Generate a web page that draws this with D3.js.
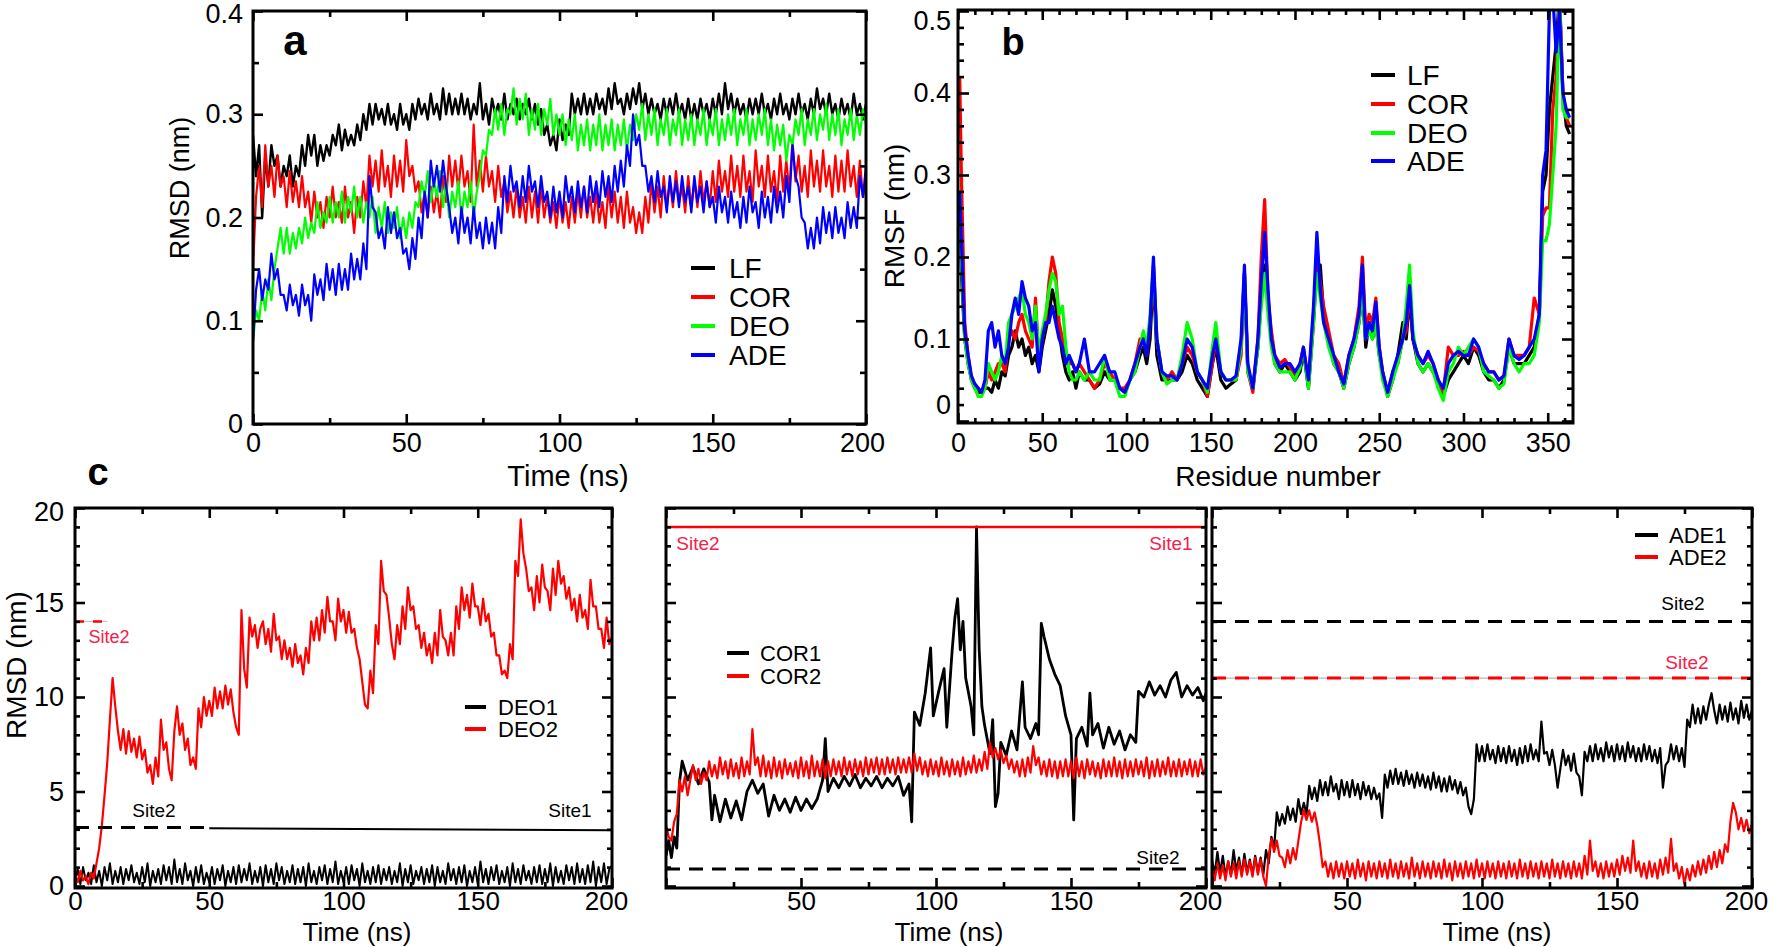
<!DOCTYPE html>
<html><head><meta charset="utf-8">
<script src="https://cdn.jsdelivr.net/npm/d3@7"></script>
<style>body{margin:0;background:#fff}svg{display:block}</style>
</head><body>
<svg id="chart" width="1772" height="947"></svg>
<script>
// ---------------- DATA ----------------
// Panel a: RMSD (nm) vs time (ns), one value per ns from 0 to 200
const timeA = d3.range(0, 201, 1);
const rmsdLF = [0.28,0.24,0.27,0.20,0.26,0.23,0.27,0.25,0.26,0.23, 0.25,0.24,0.26,0.23,0.25,0.24,0.27,0.25,0.28,0.26, 0.28,0.25,0.27,0.255,0.27,0.26,0.28,0.27,0.29,0.265, 0.285,0.27,0.28,0.27,0.29,0.275,0.30,0.285,0.31,0.29, 0.31,0.295,0.305,0.29,0.31,0.29,0.30,0.285,0.31,0.29, 0.30,0.285,0.31,0.295,0.315,0.30,0.31,0.295,0.32,0.30, 0.31,0.295,0.325,0.30,0.32,0.30,0.315,0.30,0.32,0.30, 0.315,0.295,0.31,0.30,0.33,0.295,0.31,0.29,0.315,0.30, 0.31,0.295,0.32,0.295,0.31,0.30,0.315,0.295,0.31,0.30, 0.315,0.295,0.31,0.29,0.305,0.28,0.29,0.27,0.28,0.265, 0.295,0.275,0.29,0.28,0.32,0.30,0.315,0.30,0.32,0.30, 0.315,0.30,0.32,0.305,0.315,0.30,0.325,0.305,0.33,0.31, 0.315,0.30,0.32,0.305,0.325,0.31,0.33,0.305,0.32,0.30, 0.315,0.30,0.31,0.295,0.315,0.30,0.315,0.30,0.32,0.30, 0.31,0.295,0.315,0.295,0.31,0.295,0.315,0.30,0.31,0.295, 0.315,0.30,0.32,0.30,0.33,0.305,0.32,0.30,0.315,0.30, 0.31,0.295,0.315,0.30,0.315,0.30,0.32,0.30,0.31,0.295, 0.315,0.30,0.32,0.30,0.31,0.295,0.315,0.30,0.32,0.30, 0.31,0.295,0.315,0.30,0.325,0.305,0.315,0.30,0.32,0.30, 0.31,0.295,0.315,0.30,0.31,0.295,0.32,0.30,0.31,0.295, 0.31];
const rmsdCOR = [0.15,0.22,0.25,0.21,0.27,0.23,0.25,0.22,0.26,0.23, 0.24,0.21,0.245,0.215,0.235,0.21,0.24,0.21,0.225,0.195, 0.225,0.20,0.215,0.19,0.22,0.20,0.23,0.20,0.215,0.195, 0.23,0.20,0.215,0.185,0.22,0.20,0.235,0.21,0.26,0.23, 0.255,0.225,0.265,0.23,0.25,0.22,0.26,0.23,0.255,0.225, 0.275,0.24,0.25,0.225,0.235,0.205,0.225,0.20,0.23,0.205, 0.225,0.20,0.24,0.215,0.26,0.23,0.255,0.225,0.26,0.23, 0.245,0.215,0.29,0.23,0.255,0.225,0.26,0.23,0.245,0.215, 0.25,0.22,0.235,0.205,0.225,0.20,0.23,0.20,0.22,0.195, 0.23,0.20,0.225,0.195,0.23,0.20,0.22,0.195,0.215,0.19, 0.22,0.195,0.215,0.19,0.22,0.195,0.225,0.20,0.23,0.20, 0.22,0.195,0.225,0.195,0.215,0.19,0.23,0.20,0.225,0.195, 0.22,0.19,0.225,0.195,0.21,0.185,0.205,0.185,0.22,0.195, 0.235,0.205,0.23,0.20,0.24,0.21,0.235,0.21,0.245,0.215, 0.23,0.205,0.24,0.21,0.235,0.21,0.245,0.215,0.235,0.21, 0.245,0.215,0.255,0.225,0.245,0.22,0.26,0.225,0.25,0.22, 0.26,0.225,0.245,0.215,0.265,0.23,0.25,0.22,0.26,0.225, 0.245,0.215,0.26,0.225,0.255,0.225,0.275,0.235,0.26,0.225, 0.25,0.22,0.265,0.23,0.255,0.225,0.265,0.23,0.25,0.22, 0.26,0.225,0.255,0.225,0.265,0.23,0.25,0.22,0.255,0.22, 0.235];
const rmsdDEO = [0.08,0.11,0.10,0.13,0.11,0.14,0.12,0.15,0.17,0.19, 0.165,0.19,0.165,0.185,0.17,0.19,0.175,0.20,0.18,0.195, 0.185,0.215,0.19,0.205,0.195,0.22,0.195,0.215,0.20,0.225, 0.195,0.22,0.205,0.23,0.20,0.22,0.195,0.215,0.20,0.22, 0.185,0.21,0.19,0.215,0.185,0.205,0.19,0.21,0.18,0.20, 0.18,0.205,0.19,0.215,0.21,0.235,0.22,0.245,0.215,0.235, 0.22,0.245,0.21,0.235,0.20,0.225,0.21,0.235,0.20,0.225, 0.21,0.235,0.20,0.225,0.24,0.265,0.26,0.285,0.28,0.305, 0.285,0.31,0.28,0.305,0.30,0.325,0.29,0.315,0.295,0.32, 0.28,0.305,0.285,0.31,0.28,0.305,0.29,0.315,0.28,0.30, 0.28,0.30,0.27,0.295,0.275,0.30,0.265,0.29,0.27,0.295, 0.265,0.29,0.27,0.30,0.265,0.29,0.27,0.295,0.265,0.29, 0.27,0.295,0.265,0.29,0.275,0.30,0.285,0.31,0.275,0.30, 0.28,0.305,0.27,0.295,0.28,0.305,0.27,0.295,0.28,0.305, 0.27,0.295,0.275,0.30,0.27,0.295,0.28,0.305,0.27,0.295, 0.28,0.305,0.27,0.295,0.275,0.30,0.28,0.305,0.27,0.295, 0.28,0.305,0.27,0.295,0.275,0.30,0.28,0.305,0.27,0.295, 0.265,0.29,0.27,0.29,0.255,0.28,0.27,0.295,0.28,0.305, 0.27,0.295,0.28,0.305,0.275,0.30,0.285,0.31,0.275,0.30, 0.28,0.305,0.27,0.295,0.28,0.305,0.275,0.30,0.28,0.305, 0.29];
const rmsdADE = [0.08,0.13,0.15,0.12,0.14,0.13,0.165,0.14,0.15,0.125, 0.125,0.11,0.135,0.115,0.125,0.105,0.135,0.115,0.125,0.10, 0.145,0.125,0.14,0.12,0.155,0.13,0.15,0.125,0.155,0.13, 0.15,0.13,0.165,0.14,0.16,0.14,0.175,0.15,0.24,0.21, 0.205,0.18,0.19,0.17,0.21,0.185,0.205,0.18,0.19,0.165, 0.17,0.15,0.18,0.16,0.20,0.18,0.225,0.20,0.255,0.23, 0.25,0.225,0.255,0.23,0.21,0.185,0.20,0.175,0.21,0.185, 0.20,0.175,0.21,0.18,0.195,0.17,0.20,0.175,0.195,0.17, 0.21,0.185,0.24,0.215,0.25,0.225,0.235,0.21,0.24,0.215, 0.25,0.225,0.235,0.21,0.24,0.215,0.225,0.20,0.23,0.205, 0.225,0.20,0.24,0.215,0.23,0.205,0.235,0.21,0.23,0.205, 0.24,0.215,0.235,0.21,0.245,0.22,0.24,0.215,0.25,0.225, 0.255,0.23,0.27,0.25,0.30,0.27,0.28,0.25,0.25,0.225, 0.24,0.215,0.245,0.22,0.23,0.205,0.24,0.215,0.235,0.21, 0.24,0.215,0.23,0.205,0.24,0.215,0.23,0.205,0.235,0.21, 0.22,0.195,0.23,0.205,0.22,0.195,0.225,0.20,0.215,0.19, 0.22,0.195,0.23,0.205,0.215,0.19,0.225,0.20,0.22,0.195, 0.23,0.205,0.225,0.20,0.24,0.215,0.27,0.24,0.23,0.20, 0.195,0.17,0.19,0.17,0.20,0.175,0.21,0.185,0.205,0.18, 0.21,0.185,0.20,0.18,0.215,0.19,0.21,0.19,0.24,0.22, 0.25];

// Panel b: RMSF (nm) vs residue number
const residues = [1,2,4,6,8,10,12,14,16,18,20,22,24,26,28,30,32,34,36,38,40,42,44,46,48,50,52,54,56,58,60,62,64,66,68,70,72,75,78,81,84,87,90,93,96,99,102,105,108,110,112,114,116,118,121,124,127,130,133,136,139,142,145,148,151,153,156,159,162,165,168,170,172,175,178,180,182,184,186,188,191,194,197,200,203,205,208,211,213,215,217,220,223,226,229,232,235,238,240,242,244,246,248,250,252,255,258,261,264,266,268,270,273,276,279,282,285,288,291,294,297,300,303,306,309,312,315,318,321,324,327,330,333,336,339,342,345,347,349,351,353,355,357,359,361,363];
const rmsfLF  = [0.26,0.18,0.10,0.07,0.05,0.04,0.035,0.035,0.04,0.04,0.035,0.05,0.04,0.06,0.055,0.08,0.09,0.11,0.09,0.10,0.08,0.09,0.07,0.08,0.06,0.09,0.11,0.13,0.16,0.14,0.11,0.08,0.06,0.05,0.06,0.04,0.06,0.05,0.05,0.04,0.045,0.06,0.05,0.05,0.04,0.035,0.05,0.06,0.08,0.09,0.07,0.10,0.18,0.08,0.05,0.05,0.05,0.05,0.06,0.08,0.07,0.05,0.04,0.03,0.07,0.09,0.05,0.04,0.045,0.05,0.09,0.18,0.06,0.04,0.09,0.15,0.19,0.14,0.10,0.07,0.06,0.07,0.06,0.05,0.06,0.085,0.04,0.12,0.19,0.19,0.13,0.10,0.07,0.06,0.04,0.07,0.09,0.12,0.16,0.09,0.12,0.10,0.12,0.08,0.06,0.03,0.05,0.08,0.12,0.10,0.15,0.10,0.07,0.06,0.07,0.06,0.05,0.03,0.05,0.06,0.07,0.08,0.07,0.09,0.08,0.06,0.05,0.05,0.04,0.05,0.09,0.07,0.07,0.07,0.08,0.09,0.13,0.28,0.30,0.38,0.42,0.46,0.52,0.40,0.36,0.35];
const rmsfCOR = [0.42,0.30,0.12,0.08,0.05,0.045,0.04,0.035,0.04,0.06,0.05,0.06,0.07,0.07,0.06,0.10,0.11,0.10,0.12,0.13,0.11,0.10,0.09,0.15,0.07,0.10,0.12,0.17,0.20,0.18,0.12,0.10,0.08,0.07,0.07,0.06,0.07,0.06,0.05,0.04,0.05,0.07,0.06,0.05,0.04,0.04,0.05,0.07,0.10,0.10,0.08,0.12,0.19,0.10,0.06,0.05,0.06,0.05,0.07,0.09,0.08,0.06,0.05,0.03,0.07,0.10,0.06,0.05,0.05,0.05,0.08,0.18,0.06,0.035,0.10,0.20,0.27,0.15,0.11,0.08,0.07,0.075,0.065,0.055,0.07,0.09,0.045,0.13,0.20,0.17,0.14,0.11,0.08,0.07,0.045,0.08,0.10,0.14,0.20,0.11,0.13,0.12,0.15,0.09,0.06,0.035,0.06,0.07,0.10,0.11,0.16,0.10,0.08,0.07,0.08,0.07,0.05,0.035,0.09,0.08,0.08,0.085,0.08,0.09,0.085,0.07,0.06,0.06,0.05,0.055,0.10,0.08,0.08,0.08,0.09,0.15,0.13,0.25,0.26,0.26,0.38,0.42,0.52,0.40,0.37,0.36];
const rmsfDEO = [0.28,0.20,0.10,0.07,0.05,0.04,0.03,0.03,0.04,0.07,0.06,0.05,0.06,0.08,0.07,0.12,0.13,0.14,0.15,0.16,0.13,0.12,0.10,0.14,0.08,0.11,0.13,0.16,0.18,0.17,0.13,0.14,0.09,0.06,0.05,0.05,0.06,0.05,0.06,0.05,0.05,0.08,0.05,0.05,0.03,0.03,0.05,0.06,0.09,0.11,0.09,0.13,0.19,0.10,0.06,0.045,0.05,0.05,0.08,0.12,0.10,0.06,0.05,0.035,0.09,0.12,0.06,0.05,0.05,0.05,0.09,0.18,0.06,0.04,0.09,0.14,0.18,0.13,0.09,0.07,0.06,0.06,0.06,0.05,0.065,0.09,0.04,0.12,0.18,0.15,0.12,0.09,0.07,0.06,0.04,0.07,0.09,0.12,0.16,0.10,0.11,0.10,0.12,0.08,0.05,0.03,0.05,0.07,0.10,0.14,0.19,0.11,0.07,0.06,0.07,0.06,0.04,0.025,0.06,0.07,0.09,0.08,0.09,0.10,0.09,0.06,0.055,0.05,0.04,0.045,0.09,0.07,0.06,0.07,0.07,0.08,0.12,0.22,0.22,0.24,0.30,0.36,0.52,0.38,0.37,0.37];
const rmsfADE = [0.28,0.22,0.11,0.08,0.055,0.045,0.04,0.035,0.05,0.11,0.12,0.09,0.11,0.08,0.07,0.09,0.13,0.15,0.13,0.17,0.15,0.14,0.11,0.12,0.06,0.10,0.12,0.12,0.14,0.12,0.10,0.09,0.07,0.08,0.07,0.06,0.07,0.10,0.06,0.06,0.07,0.08,0.06,0.06,0.04,0.035,0.05,0.07,0.09,0.10,0.08,0.12,0.20,0.10,0.06,0.055,0.055,0.05,0.07,0.10,0.09,0.06,0.05,0.04,0.08,0.10,0.06,0.05,0.05,0.055,0.10,0.19,0.07,0.04,0.10,0.17,0.23,0.16,0.10,0.08,0.065,0.07,0.07,0.06,0.07,0.09,0.05,0.14,0.23,0.16,0.12,0.10,0.08,0.06,0.045,0.08,0.10,0.13,0.19,0.10,0.12,0.11,0.145,0.09,0.06,0.035,0.06,0.08,0.10,0.12,0.165,0.10,0.08,0.07,0.085,0.07,0.05,0.04,0.07,0.08,0.085,0.08,0.08,0.10,0.09,0.07,0.06,0.06,0.05,0.055,0.10,0.08,0.075,0.08,0.09,0.10,0.13,0.30,0.33,0.50,0.52,0.45,0.50,0.40,0.38,0.37];

// Panel c: ligand RMSD (nm) vs time (ns), one value per ns
const timeC = d3.range(0, 201, 1);
const deo1 = [0.2,0.9,0.1,1.0,0.3,0.7,0.1,1.1,0.2,0.8,0.0,1.0,0.3,1.2,0.1,0.8,0.2,1.0,0.1,0.9,0.3,1.1,0.2,0.7,0.1,1.0,0.2,1.2,0.0,0.8,0.2,0.9,0.1,1.1,0.3,1.0,0.1,1.4,0.2,0.9,0.1,1.2,0.3,0.8,0.0,1.0,0.2,1.1,0.1,0.7,0.2,1.0,0.1,0.9,0.3,1.1,0.0,0.8,0.2,1.0,0.1,1.1,0.2,0.9,0.3,1.2,0.1,0.8,0.2,1.0,0.0,1.1,0.2,0.9,0.1,1.2,0.3,1.0,0.1,0.8,0.2,1.1,0.1,0.9,0.2,1.0,0.0,1.2,0.2,0.8,0.1,1.0,0.3,1.1,0.1,0.9,0.2,1.3,0.1,0.8,0.2,1.0,0.1,1.1,0.3,0.9,0.0,1.2,0.2,0.8,0.1,1.0,0.2,1.1,0.1,0.9,0.3,1.0,0.1,0.8,0.2,1.2,0.0,0.9,0.2,1.1,0.1,0.8,0.3,1.0,0.1,0.9,0.2,1.1,0.0,1.0,0.2,0.8,0.1,1.2,0.3,0.9,0.1,1.0,0.2,1.1,0.0,0.8,0.2,1.0,0.1,1.3,0.2,0.9,0.1,1.0,0.3,1.1,0.1,0.8,0.2,1.0,0.0,1.2,0.2,0.9,0.1,1.1,0.3,0.8,0.1,1.0,0.2,1.1,0.1,0.9,0.2,1.2,0.0,1.0,0.2,0.8,0.1,1.1,0.3,1.0,0.1,1.2,0.2,0.9,0.1,1.1,0.2,1.3,0.0,1.0,0.2,1.2,0.1,0.9,1.1];
const deo2 = [0.6,0.2,0.8,0.3,0.5,0.1,0.7,0.4,1.2,2.0, 3.2,4.8,6.5,8.8,11.0,9.5,8.2,7.2,8.3,7.0, 8.2,7.1,7.8,6.8,7.9,6.7,7.2,6.0,6.4,5.4, 6.8,5.8,8.8,7.2,7.6,6.2,5.6,8.2,9.5,8.0, 8.6,7.2,7.8,6.4,6.8,6.2,9.4,8.4,10.0,9.0, 9.8,9.0,10.5,9.4,10.3,9.4,10.6,9.6,10.4,9.2, 8.4,8.0,14.6,11.5,10.5,14.2,13.2,13.8,12.6,13.6, 14.0,12.8,13.6,12.4,14.4,13.0,13.2,12.0,13.0,12.0, 12.6,11.6,12.8,11.8,12.2,11.2,12.6,11.8,14.0,13.0, 14.2,13.0,14.6,13.4,15.3,14.0,14.0,13.0,15.2,14.0, 14.6,13.4,14.5,13.4,13.6,12.6,12.0,10.8,9.6,9.4, 11.4,10.2,13.8,12.8,17.2,15.6,15.4,14.2,12.8,12.0, 13.8,12.8,14.8,13.6,15.8,14.6,14.8,13.6,13.8,12.6, 13.4,12.2,12.8,11.8,13.4,12.2,14.6,13.2,13.0,12.2, 13.4,12.2,14.8,13.6,15.8,14.6,15.4,14.2,16.0,14.8, 14.8,13.8,15.2,14.0,14.4,13.2,13.4,12.2,12.2,11.2, 11.4,11.0,12.8,12.0,17.2,16.4,19.4,17.6,16.8,15.6, 15.8,14.6,16.4,15.0,17.0,15.8,15.6,14.6,16.8,15.4, 17.2,16.0,16.4,15.2,15.8,14.6,15.2,14.0,15.4,14.2, 14.6,13.6,16.2,14.8,14.8,13.6,13.6,12.6,14.2,12.8, 13.2];
const cor1 = [[0,1.6],[1,2.4],[2,1.5],[3,2.6],[4,2.0],[5,5.5],[6,6.6],[8,5.6],[10,6.3],[12,5.4],[14,6.2],[16,5.5],[17,3.5],[18,4.8],[20,3.4],[22,4.6],[24,3.6],[26,4.5],[28,3.5],[30,5.0],[32,5.6],[34,4.9],[36,5.4],[38,3.7],[40,4.8],[42,4.0],[44,4.6],[46,3.9],[48,4.7],[50,4.0],[52,4.6],[54,4.1],[56,4.6],[58,5.6],[59,7.8],[60,5.0],[62,5.7],[64,5.2],[66,5.8],[68,5.3],[70,5.9],[72,5.2],[74,5.7],[76,5.3],[78,5.8],[80,5.2],[82,5.7],[84,5.3],[86,5.8],[88,4.8],[90,5.4],[91,3.4],[92,9.2],[94,8.5],[96,10.2],[98,12.6],[99,9.0],[101,10.3],[103,11.5],[104,8.4],[106,12.5],[107,14.2],[108,15.2],[109,12.5],[110,14.0],[111,11.0],[113,9.5],[114,8.0],[115,19.0],[116,12.5],[117,9.5],[118,8.5],[120,7.0],[121,8.8],[122,4.2],[123,4.9],[124,7.6],[126,6.9],[128,8.2],[130,7.2],[132,10.8],[133,8.4],[135,7.8],[137,8.6],[138,8.0],[139,13.9],[140,13.2],[142,12.0],[144,11.2],[146,10.6],[148,9.0],[150,8.0],[151,3.5],[152,7.8],[154,8.4],[156,7.4],[157,10.2],[158,8.0],[160,8.6],[162,7.3],[164,8.4],[166,7.5],[168,8.2],[170,7.2],[172,8.0],[174,7.6],[175,10.3],[177,10.0],[179,10.8],[181,10.1],[183,10.6],[185,10.0],[187,10.9],[189,11.3],[191,10.0],[193,10.6],[195,10.1],[197,10.5],[199,9.8],[200,10.2]];
const cor2 = [3.2,2.6,2.4,3.4,3.8,5.6,5.0,5.8,4.8,5.6, 6.4,5.6,6.2,5.4,6.0,5.6,6.6,5.8,6.4,5.7, 6.8,5.9,6.6,5.7,6.7,5.8,6.5,5.7,6.8,5.8, 6.6,5.9,8.3,6.4,6.8,5.8,6.9,5.8,6.6,5.7, 6.8,5.8,6.6,5.7,6.7,5.9,6.5,5.8,6.6,5.7, 6.8,5.8,6.6,5.7,6.9,5.8,6.6,5.8,6.7,5.7, 6.6,5.8,6.7,5.9,6.6,5.8,6.8,5.9,6.6,5.8, 6.7,5.9,6.6,5.8,6.8,5.9,6.7,6.0,6.8,5.9, 6.7,5.9,6.8,6.0,6.7,5.9,6.8,6.0,6.7,6.0, 6.8,6.0,7.0,6.1,6.8,5.9,6.6,5.8,6.7,5.9, 6.6,5.8,6.8,5.9,6.6,5.8,6.7,5.9,6.6,5.8, 6.8,5.9,6.6,6.0,6.9,6.0,6.7,6.1,7.1,6.2, 7.6,6.8,7.3,6.7,7.2,6.5,6.9,6.2,6.7,6.0, 6.6,5.8,6.7,5.8,6.8,6.0,7.4,6.4,6.8,5.9, 6.6,5.8,6.7,5.8,6.6,5.7,6.6,5.8,6.7,5.8, 6.6,5.7,6.8,5.8,6.6,5.7,6.7,5.9,6.6,5.8, 6.5,5.7,6.7,5.8,6.6,5.8,6.8,5.8,6.6,5.7, 6.7,5.8,6.6,5.8,6.7,5.9,6.6,5.8,6.8,5.7, 6.6,5.8,6.7,5.8,6.6,5.9,6.8,5.8,6.6,5.8, 6.7,5.8,6.6,5.9,6.7,5.8,6.6,5.8,6.7,5.9, 6.3];
const ade1 = [1.4,0.6,1.8,0.7,1.6,0.5,1.3,0.6,1.9,0.8, 1.5,0.6,1.7,0.7,1.4,0.6,1.6,0.7,1.5,0.6, 1.9,1.2,2.6,2.0,3.9,3.2,3.8,3.3,4.2,3.5, 4.1,3.4,4.6,3.8,4.4,3.8,5.3,4.6,5.2,4.5, 5.6,4.8,5.5,4.8,5.8,5.0,5.4,4.6,5.6,4.8, 5.5,4.7,5.6,4.8,5.4,4.6,5.5,4.8,5.3,4.6, 5.2,4.6,4.9,3.6,5.9,5.2,6.1,5.4,6.2,5.4, 6.0,5.3,6.1,5.4,5.9,5.2,6.0,5.3,5.9,5.2, 5.8,5.1,6.0,5.2,5.8,5.0,5.7,5.0,5.8,5.1, 5.6,4.9,5.5,4.8,5.2,4.2,3.8,4.6,7.5,6.6, 7.4,6.6,7.5,6.7,7.2,6.5,7.4,6.6,7.3,6.5, 7.4,6.6,7.2,6.4,7.3,6.5,7.4,6.6,7.5,6.7, 7.2,6.6,8.7,7.0,7.1,6.4,7.2,6.4,5.2,6.2, 7.2,6.4,6.9,6.1,7.0,6.0,5.8,4.8,7.1,6.6, 7.4,6.6,7.5,6.7,7.3,6.6,7.6,6.8,7.4,6.6, 7.5,6.7,7.4,6.6,7.6,6.8,7.4,6.6,7.3,6.6, 7.5,6.7,7.4,6.6,7.2,6.5,7.3,5.2,6.4,6.6, 7.5,6.7,7.4,6.6,7.3,6.3,8.8,8.4,9.6,8.6, 9.4,8.6,9.5,8.8,9.6,10.2,9.3,8.6,9.6,8.8, 9.5,8.7,9.7,8.8,9.4,8.6,9.8,8.9,9.6,8.8, 9.3];
const ade2 = [1.0,0.3,1.2,0.4,1.1,0.3,1.3,0.5,1.2,0.4, 1.3,0.5,1.4,0.6,1.3,0.5,1.5,0.6,1.4,0.5, 0.0,1.6,2.5,1.8,2.4,1.6,1.5,1.0,1.9,1.2, 2.0,1.4,2.4,3.4,4.0,3.5,4.0,3.4,3.9,3.2, 2.2,1.0,1.3,0.5,1.2,0.4,1.3,0.5,1.2,0.4, 1.3,0.5,1.2,0.4,1.4,0.5,1.2,0.3,1.3,0.5, 1.2,0.4,1.3,0.5,1.2,0.4,1.4,0.5,1.2,0.4, 1.3,0.5,1.2,0.4,1.5,0.5,1.2,0.4,1.3,0.5, 1.2,0.4,1.3,0.5,1.2,0.4,1.4,0.5,1.2,0.3, 1.3,0.5,1.2,0.4,1.3,0.5,1.2,0.4,1.4,0.5, 1.2,0.4,1.3,0.5,1.2,0.4,1.3,0.5,1.2,0.4, 1.3,0.5,1.2,0.4,1.4,0.5,1.2,0.4,1.3,0.5, 1.2,0.4,1.3,0.5,1.2,0.4,1.4,0.5,1.2,0.4, 1.3,0.5,1.2,0.4,1.3,0.5,1.2,0.4,1.6,0.6, 2.4,0.8,1.3,0.5,1.2,0.4,1.3,0.5,1.2,0.5, 1.4,0.6,1.6,0.8,1.5,0.7,2.4,0.8,1.3,0.5, 1.2,0.4,1.3,0.5,1.2,0.4,1.4,0.6,1.5,0.7, 2.5,0.8,1.2,0.4,1.0,0.1,0.9,0.3,1.1,0.5, 1.3,0.6,1.4,0.7,1.6,0.9,1.8,1.0,1.9,1.2, 2.2,1.8,3.4,4.4,3.9,3.0,3.6,2.9,3.5,2.8, 3.3];
// Binding-site reference levels (nm)
const siteC1 = {site2Black: 3.1, site1Black: [3.05, 2.95], site2Red: 14};
const siteC2 = {site2Black: 0.9, site1Red: 19};
const siteC3 = {site2Black: 14, site2Red: 11};

// Tick values
const ticksTime = [0, 50, 100, 150, 200];
const ticksTimeMinor = [25, 75, 125, 175];
const ticksRMSD = [0, 0.1, 0.2, 0.3, 0.4];
const ticksRMSDMinor = [0.05, 0.15, 0.25, 0.35];
const ticksRes = [0, 50, 100, 150, 200, 250, 300, 350];
const ticksResMinor = [10,20,30,40,60,70,80,90,110,120,130,140,160,170,180,190,210,220,230,240,260,270,280,290,310,320,330,340,360];
const ticksRMSF = [0, 0.1, 0.2, 0.3, 0.4, 0.5];
const ticksRMSFMinor = [0.02,0.04,0.06,0.08,0.12,0.14,0.16,0.18,0.22,0.24,0.26,0.28,0.32,0.34,0.36,0.38,0.42,0.44,0.46,0.48];
const ticksC = [0, 5, 10, 15, 20];
const ticksCMinor = [1,2,3,4,6,7,8,9,11,12,13,14,16,17,18,19];

[rmsdLF, rmsdCOR, rmsdDEO, rmsdADE].forEach(a => { if (a.length !== timeA.length) throw new Error("panel a length " + a.length); });
[rmsfLF, rmsfCOR, rmsfDEO, rmsfADE].forEach(a => { if (a.length !== residues.length) throw new Error("panel b length " + a.length); });
[deo1, deo2, cor2, ade1, ade2].forEach(a => { if (a.length !== timeC.length) throw new Error("panel c length " + a.length); });

// ---------------- DRAWING ----------------
const FONT = '"Liberation Sans", Arial, Helvetica, sans-serif';
const RED = "#ff0000", GREEN = "#00ff00", BLUE = "#0000ff", BLACK = "#000000", SITE_RED = "#f5204a";
const svg = d3.select("#chart");

function panel(p) {
  const x = d3.scaleLinear().domain(p.xDomain).range([p.left, p.right]);
  const y = d3.scaleLinear().domain(p.yDomain).range(p.yRange);
  const g = svg.append("g");
  const clipId = "clip-" + p.id;
  g.append("clipPath").attr("id", clipId).append("rect")
    .attr("x", p.left).attr("y", p.top).attr("width", p.right - p.left).attr("height", p.bottom - p.top);
  const plot = g.append("g").attr("clip-path", `url(#${clipId})`);
  return {p, x, y, g, plot};
}

function tickSet(P, dim, values, len) {
  const p = P.p;
  const s = dim === "x" ? P.x : P.y;
  const defs = dim === "x"
    ? [[d3.axisBottom, `translate(0,${p.bottom})`], [d3.axisTop, `translate(0,${p.top})`]]
    : [[d3.axisLeft, `translate(${p.left},0)`], [d3.axisRight, `translate(${p.right},0)`]];
  defs.forEach(([fn, tr]) => {
    P.g.append("g").attr("transform", tr)
      .call(fn(s).tickValues(values).tickSize(-len).tickFormat(""))
      .call(a => a.select(".domain").remove())
      .selectAll("line").attr("stroke", BLACK).attr("stroke-width", 2.6);
  });
}

function frame(P) {
  const p = P.p;
  P.g.append("rect").attr("x", p.left).attr("y", p.top)
    .attr("width", p.right - p.left).attr("height", p.bottom - p.top)
    .attr("fill", "none").attr("stroke", BLACK).attr("stroke-width", 3);
}

function xLabels(P, values, pad, fs, lastDx) {
  const ax = P.g.append("g").attr("transform", `translate(0,${P.p.bottom})`)
    .call(d3.axisBottom(P.x).tickValues(values).tickSize(0).tickPadding(pad).tickFormat(d => String(d)))
    .call(a => a.select(".domain").remove());
  ax.selectAll("text").attr("font-size", fs).attr("font-family", FONT).attr("fill", BLACK)
    .attr("dx", (d, i) => (i === values.length - 1 ? lastDx || 0 : 0));
  return ax;
}
function yLabels(P, values, pad, fs) {
  const ax = P.g.append("g").attr("transform", `translate(${P.p.left},0)`)
    .call(d3.axisLeft(P.y).tickValues(values).tickSize(0).tickPadding(pad).tickFormat(d => String(d)))
    .call(a => a.select(".domain").remove());
  ax.selectAll("text").attr("font-size", fs).attr("font-family", FONT).attr("fill", BLACK);
  return ax;
}

function text(g, x, y, str, fs, opts = {}) {
  const t = g.append("text").attr("x", x).attr("y", y).text(str)
    .attr("font-family", FONT).attr("font-size", fs)
    .attr("fill", opts.fill || BLACK)
    .attr("text-anchor", opts.anchor || "middle")
    .attr("dy", opts.dy === undefined ? "0.35em" : opts.dy);
  if (opts.bold) t.attr("font-weight", "bold");
  if (opts.rotate) t.attr("transform", `rotate(-90,${x},${y})`);
  return t;
}

function series(P, xs, ys, color, width) {
  const pts = xs.map((t, i) => [t, ys[i]]);
  P.plot.append("path").datum(pts)
    .attr("d", d3.line().x(d => P.x(d[0])).y(d => P.y(d[1])))
    .attr("fill", "none").attr("stroke", color).attr("stroke-width", width)
    .attr("stroke-linejoin", "round");
}
function pairSeries(P, pts, color, width) {
  P.plot.append("path").datum(pts)
    .attr("d", d3.line().x(d => P.x(d[0])).y(d => P.y(d[1])))
    .attr("fill", "none").attr("stroke", color).attr("stroke-width", width)
    .attr("stroke-linejoin", "round");
}
function hline(P, x0, x1, v0, v1, color, width, dash) {
  const l = P.plot.append("line")
    .attr("x1", P.x(x0)).attr("x2", P.x(x1)).attr("y1", P.y(v0)).attr("y2", P.y(v1))
    .attr("stroke", color).attr("stroke-width", width);
  if (dash) l.attr("stroke-dasharray", dash);
}
function legend(g, items, x0, x1, tx, rows, fs, sw) {
  items.forEach((it, i) => {
    g.append("line").attr("x1", x0).attr("x2", x1).attr("y1", rows[i]).attr("y2", rows[i])
      .attr("stroke", it[1]).attr("stroke-width", sw);
    text(g, tx, rows[i], it[0], fs, {anchor: "start"});
  });
}

// ---------- Panel a ----------
const A = panel({id: "a", left: 253, right: 866, top: 11, bottom: 424,
  xDomain: [0, 200], yDomain: [0, 0.4], yRange: [424, 11]});
series(A, timeA, rmsdLF, BLACK, 2.4);
series(A, timeA, rmsdCOR, RED, 2.2);
series(A, timeA, rmsdDEO, GREEN, 2.2);
series(A, timeA, rmsdADE, BLUE, 2.2);
frame(A);
tickSet(A, "x", ticksTime, 10); tickSet(A, "x", ticksTimeMinor, 6);
tickSet(A, "y", ticksRMSD, 10); tickSet(A, "y", ticksRMSDMinor, 6);
xLabels(A, ticksTime, 8.5, 27, -4);
const ayl = yLabels(A, ticksRMSD, 10, 27);
ayl.selectAll("text").filter(d => d === 0.4).attr("y", 3);
text(A.g, 568, 476, "Time (ns)", 29);
text(A.g, 180, 188, "RMSD (nm)", 27, {rotate: true});
text(A.g, 295, 55, "a", 42, {bold: true, dy: 0});
legend(A.g, [["LF", BLACK], ["COR", RED], ["DEO", GREEN], ["ADE", BLUE]], 691, 715, 729, [268, 297, 326, 355], 28, 4);

// ---------- Panel b ----------
const B = panel({id: "b", left: 958, right: 1573, top: 10, bottom: 423,
  xDomain: [0, 365], yDomain: [0, 0.5], yRange: [421, 11]});
series(B, residues, rmsfLF, BLACK, 3.2);
series(B, residues, rmsfCOR, RED, 3.2);
series(B, residues, rmsfDEO, GREEN, 3.2);
series(B, residues, rmsfADE, BLUE, 3.2);
frame(B);
tickSet(B, "x", ticksRes, 10); tickSet(B, "x", ticksResMinor, 5);
tickSet(B, "y", ticksRMSF, 11); tickSet(B, "y", ticksRMSFMinor, 6);
xLabels(B, ticksRes, 9.5, 27, 0);
const byl = yLabels(B, ticksRMSF, 7, 27);
byl.selectAll("text").filter(d => d === 0).attr("y", -16);
byl.selectAll("text").filter(d => d === 0.5).attr("y", 10);
text(B.g, 1278, 476, "Residue number", 28);
text(B.g, 894, 216, "RMSF (nm)", 28, {rotate: true});
text(B.g, 1013, 55, "b", 38, {bold: true, dy: 0});
legend(B.g, [["LF", BLACK], ["COR", RED], ["DEO", GREEN], ["ADE", BLUE]], 1371, 1395, 1407, [75, 104, 133, 161], 28, 4);

// ---------- Panel c (three sub-panels) ----------
function cPanel(id, left, right) {
  return panel({id, left, right, top: 508, bottom: 888, xDomain: [0, 200], yDomain: [0, 20], yRange: [886, 508]});
}
function cAxes(P, labels) {
  frame(P);
  tickSet(P, "x", ticksTime, 10); tickSet(P, "x", ticksTimeMinor, 6);
  tickSet(P, "y", ticksC, 10); tickSet(P, "y", ticksCMinor, 5);
  xLabels(P, labels, 4, 26, -6);
}

// c1: DEO
const C1 = cPanel("c1", 75, 612);
series(C1, timeC, deo1, BLACK, 2);
series(C1, timeC, deo2, RED, 2.2);
hline(C1, 0, 49, siteC1.site2Black, siteC1.site2Black, BLACK, 3, "14,9");
hline(C1, 50, 200, siteC1.site1Black[0], siteC1.site1Black[1], BLACK, 2);
hline(C1, 0, 12, siteC1.site2Red, siteC1.site2Red, "#bbbbbb", 1);
hline(C1, 0, 12, siteC1.site2Red, siteC1.site2Red, RED, 2.5, "9,9");
cAxes(C1, ticksTime);
const c1yl = yLabels(C1, ticksC, 11, 27);
c1yl.selectAll("text").filter(d => d === 20).attr("y", 4);
text(C1.g, 357, 932, "Time (ns)", 26);
text(C1.g, 16, 665, "RMSD (nm)", 28, {rotate: true});
text(C1.g, 98, 485, "c", 38, {bold: true, dy: 0});
text(C1.g, 109, 637, "Site2", 18, {fill: SITE_RED});
text(C1.g, 154, 810, "Site2", 19);
text(C1.g, 570, 810, "Site1", 19);
legend(C1.g, [["DEO1", BLACK], ["DEO2", RED]], 465, 486, 498, [707, 729], 22, 4);

// c2: COR
const C2 = cPanel("c2", 666, 1206);
pairSeries(C2, cor1, BLACK, 2.8);
series(C2, timeC, cor2, RED, 2.2);
hline(C2, 0, 200, siteC2.site1Red, siteC2.site1Red, RED, 2.5);
hline(C2, 0, 200, siteC2.site2Black, siteC2.site2Black, BLACK, 3, "14,9");
cAxes(C2, ticksTime.slice(1));
text(C2.g, 949, 932, "Time (ns)", 26);
text(C2.g, 698, 543, "Site2", 19, {fill: SITE_RED});
text(C2.g, 1171, 543, "Site1", 19, {fill: SITE_RED});
text(C2.g, 1158, 857, "Site2", 19);
legend(C2.g, [["COR1", BLACK], ["COR2", RED]], 727, 749, 760, [653, 676], 22, 4);

// c3: ADE
const C3 = cPanel("c3", 1212, 1752);
series(C3, timeC, ade1, BLACK, 2.2);
series(C3, timeC, ade2, RED, 2.2);
hline(C3, 0, 200, siteC3.site2Black, siteC3.site2Black, BLACK, 3, "14,9");
hline(C3, 0, 200, siteC3.site2Red, siteC3.site2Red, "#b8b8b8", 1.2);
hline(C3, 0, 200, siteC3.site2Red, siteC3.site2Red, RED, 3, "14,9");
cAxes(C3, ticksTime.slice(1));
text(C3.g, 1497, 932, "Time (ns)", 26);
text(C3.g, 1683, 603, "Site2", 19);
text(C3.g, 1687, 662, "Site2", 19, {fill: SITE_RED});
legend(C3.g, [["ADE1", BLACK], ["ADE2", RED]], 1635, 1658, 1669, [535, 557], 22, 4);
</script>
</body></html>
